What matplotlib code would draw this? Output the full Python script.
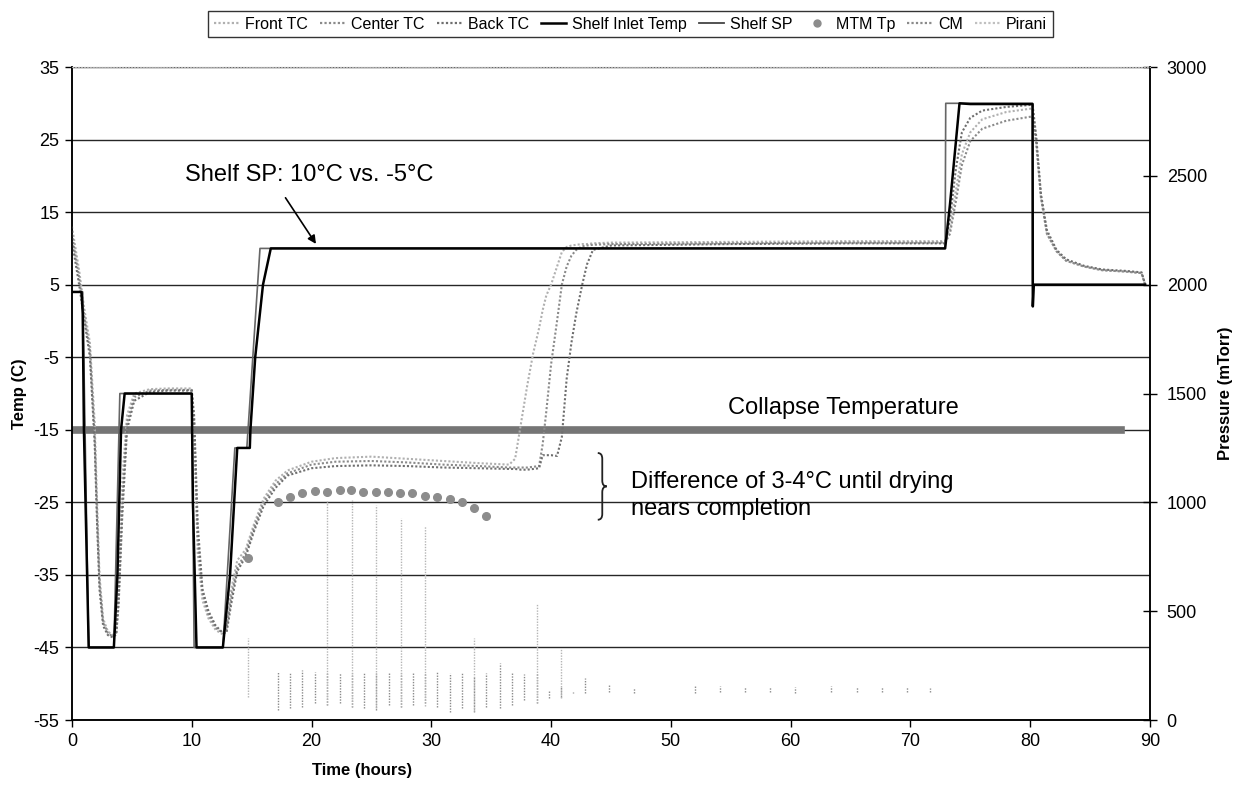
import matplotlib
matplotlib.use("Agg")
import matplotlib.pyplot as plt
from matplotlib.lines import Line2D
from matplotlib.path import Path
from matplotlib.patches import PathPatch

plt.rcParams['font.family'] = ['Liberation Sans', 'DejaVu Sans']
plt.rcParams['axes.unicode_minus'] = False

# ---- product thermocouples (deg C), common time base (hours) ----
tc_time = [0.0, 0.3, 0.6, 1.0, 1.5, 1.9, 2.1, 2.3, 2.6, 3.0, 3.4, 3.7, 3.9, 4.2, 4.6, 5.2,
           6.5, 8.0, 10.0, 10.2, 10.5, 10.9, 11.4, 12.0, 12.6, 12.9, 13.3, 13.8, 14.5,
           15.2, 16.0, 17.0, 18.0, 20.0, 22.0, 25.0, 28.0, 31.0, 34.0, 36.5, 37.0, 37.5,
           38.0, 38.5, 39.0, 39.3, 39.6, 40.0, 40.5, 40.9, 41.3, 41.7, 42.1, 42.6, 43.0,
           43.5, 45.0, 55.0, 65.0, 72.9, 73.3, 73.8, 74.3, 75.0, 76.0, 78.0, 80.2, 80.5,
           80.9, 81.4, 82.2, 83.0, 84.5, 86.0, 88.0, 89.3, 89.6]
front_tc = [13.0, 10.0, 7.0, 2.0, -3.0, -14.0, -25.0, -35.0, -41.0, -42.8, -43.3, -42.5,
            -36.0, -22.0, -13.0, -10.0, -9.4, -9.3, -9.3, -16.0, -32.0, -38.5, -41.0,
            -42.6, -43.2, -42.0, -37.0, -33.0, -31.5, -28.0, -24.5, -22.0, -20.6, -19.4,
            -18.9, -18.7, -19.0, -19.3, -19.6, -19.8, -19.0, -14.0, -9.0, -4.5, -1.0, 1.5,
            3.5, 5.0, 7.5, 9.5, 10.2, 10.4, 10.5, 10.6, 10.6, 10.7, 10.8, 10.9, 11.0, 11.0,
            12.5, 18.0, 23.0, 26.0, 27.8, 28.8, 29.3, 25.0, 17.0, 12.0, 9.6, 8.3, 7.5, 7.0,
            6.8, 6.6, 5.0]
center_tc = [12.0, 9.0, 6.0, 1.0, -4.0, -16.0, -27.0, -36.0, -41.5, -43.0, -43.5, -43.0,
             -38.0, -25.0, -14.0, -10.5, -9.6, -9.5, -9.5, -14.0, -30.0, -37.5, -40.5,
             -42.3, -43.0, -42.5, -38.0, -34.0, -32.0, -28.5, -25.0, -22.5, -21.0, -19.8,
             -19.4, -19.3, -19.5, -19.8, -20.0, -20.2, -20.2, -20.2, -20.2, -20.1, -20.0,
             -17.0, -12.5, -6.0, 0.0, 5.0, 7.5, 9.0, 9.8, 10.3, 10.4, 10.5, 10.6, 10.7,
             10.8, 10.8, 12.0, 16.5, 21.5, 24.8, 26.5, 27.6, 28.2, 24.5, 17.0, 12.0, 9.6,
             8.3, 7.5, 7.0, 6.8, 6.6, 5.0]
back_tc = [11.0, 8.0, 5.0, 0.5, -5.0, -17.0, -28.0, -37.0, -42.0, -43.3, -43.6, -43.2,
           -39.0, -27.0, -15.0, -11.0, -9.8, -9.6, -9.6, -13.0, -28.0, -37.0, -40.0, -42.0,
           -43.0, -43.0, -39.0, -34.5, -32.5, -29.0, -25.5, -23.0, -21.3, -20.3, -20.0,
           -19.9, -20.0, -20.2, -20.3, -20.4, -20.4, -20.5, -20.5, -20.4, -20.3, -18.5,
           -18.5, -18.5, -18.6, -16.0, -8.0, -3.0, 1.0, 5.0, 7.8, 9.8, 10.4, 10.6, 10.7,
           10.7, 14.0, 21.0, 26.0, 28.0, 29.0, 29.5, 29.8, 25.5, 17.5, 12.5, 9.8, 8.5, 7.6,
           7.1, 6.9, 6.7, 5.0]

# ---- shelf ----
inlet_time = [0.0, 0.8, 0.9, 1.0, 1.4, 3.5, 3.8, 4.1, 4.4, 5.0, 10.0, 10.1, 10.4, 12.6,
              13.2, 13.8, 14.85, 14.9, 15.3, 15.95, 16.6, 30.0, 50.0, 72.9, 73.3, 74.1,
              75.0, 80.2, 80.22, 80.3, 89.6]
inlet_temp = [4.0, 4.0, 1.0, -15.0, -45.0, -45.0, -35.0, -15.0, -10.0, -10.0, -10.0,
              -25.0, -45.0, -45.0, -35.0, -17.5, -17.5, -15.0, -5.0, 5.0, 10.0, 10.0, 10.0,
              10.0, 16.0, 30.0, 29.9, 29.9, 2.0, 5.0, 5.0]
sp_time = [0.0, 0.9, 1.4, 3.5, 4.0, 10.0, 10.2, 12.6, 13.6, 14.6, 15.7, 72.9, 72.95,
           80.2, 80.2, 89.6]
sp_temp = [4.0, 4.0, -45.0, -45.0, -10.0, -10.0, -45.0, -45.0, -17.5, -17.5, 10.0, 10.0,
           30.0, 30.0, 5.0, 5.0]

# ---- MTM product temperature ----
mtm_time = [14.7, 17.2, 18.2, 19.2, 20.3, 21.3, 22.4, 23.3, 24.3, 25.4, 26.35, 27.4,
            28.4, 29.5, 30.5, 31.55, 32.6, 33.6, 34.6]
mtm_temp = [-32.7, -25.0, -24.3, -23.75, -23.4, -23.6, -23.3, -23.3, -23.6, -23.6, -23.6,
            -23.75, -23.75, -24.1, -24.2, -24.6, -25.0, -25.8, -26.9]

collapse_time = [0.0, 87.6]
collapse_temp = [-15.0, -15.0]

# ---- chamber pressure (mTorr) ----
cm_time = [17.2, 18.2, 19.2, 20.3, 21.3, 22.4, 23.4, 24.4, 25.4, 26.5, 27.5, 28.5, 29.5,
           30.5, 31.6, 32.6, 33.6, 34.6, 35.7, 36.7, 37.7, 38.8, 39.8, 40.8, 41.8, 42.8,
           44.8, 46.9, 52.0, 54.1, 56.2, 58.3, 60.4, 63.4, 65.5, 67.6, 69.7, 71.6]
cm_low = [46, 54, 61, 77, 69, 77, 61, 54, 46, 69, 61, 69, 77, 61, 38, 54, 38, 61, 54, 69,
          92, 77, 100, 107, 123, 123, 130, 123, 125, 128, 130, 128, 125, 128, 130, 128,
          130, 130]
cm_high = [222, 222, 228, 222, 215, 214, 215, 222, 214, 214, 215, 222, 215, 222, 214, 214,
           199, 214, 260, 222, 210, 216, 138, 152, 130, 191, 161, 145, 160, 155, 150, 150,
           150, 155, 150, 150, 150, 145]
pirani_time = [14.7, 21.3, 23.4, 25.4, 27.5, 29.5, 33.6, 38.8, 40.8]
pirani_low = [106, 70, 60, 55, 60, 65, 40, 80, 100]
pirani_high = [377, 1010, 1010, 988, 928, 891, 377, 537, 331]

fig = plt.figure(figsize=(12.34, 7.85), dpi=100)
ax = fig.add_axes([0.0583, 0.0828, 0.8736, 0.8318])
ax2 = ax.twinx()

dot = (0, (1, 1))
ax.plot(collapse_time, collapse_temp, color="#757575", lw=5.5, zorder=2)
ax.plot(tc_time, front_tc, color="#b0b0b0", lw=1.5, ls=dot, zorder=3)
ax.plot(tc_time, center_tc, color="#8a8a8a", lw=1.5, ls=dot, zorder=3)
ax.plot(tc_time, back_tc, color="#6e6e6e", lw=1.5, ls=dot, zorder=3)
ax.plot(sp_time, sp_temp, color="#666666", lw=1.2, zorder=4)
ax.plot(inlet_time, inlet_temp, color="black", lw=1.8, zorder=5)
ax.plot(mtm_time, mtm_temp, ls="none", marker="o", ms=5.5, color="#8c8c8c", zorder=6)

ax2.vlines(cm_time, cm_low, cm_high, colors="#8a8a8a", lw=1.0, linestyles=dot)
ax2.vlines(pirani_time, pirani_low, pirani_high, colors="#b5b5b5", lw=1.0, linestyles=dot)

ax.set_xlim(0, 90)
ax.set_ylim(-55, 35)
ax.set_xticks(range(0, 91, 10))
ax.set_yticks(range(-55, 36, 10))
ax2.set_ylim(0, 3000)
ax2.set_yticks(range(0, 3001, 500))

ax.yaxis.grid(True, color="#262626", lw=1.0)
ax.set_axisbelow(True)
ax.tick_params(axis="both", direction="out", length=5, width=1, labelsize=13, pad=4)
ax2.tick_params(axis="y", direction="inout", length=10, width=1, labelsize=13, pad=7)

for a in (ax, ax2):
    a.spines["top"].set_color("#b0b0b0")
    a.spines["top"].set_linestyle(":")
    for s in ("left", "right", "bottom"):
        a.spines[s].set_color("black")
        a.spines[s].set_linewidth(1.1)

ax.set_ylabel("Temp (C)", fontsize=12, fontweight="bold", labelpad=5)
ax2.set_ylabel("Pressure (mTorr)", fontsize=12, fontweight="bold", labelpad=8)
ax.set_xlabel("Time (hours)", fontsize=12, fontweight="bold")
ax.xaxis.set_label_coords(0.269, -0.066)

# annotations
ax.text(9.4, 20.1, "Shelf SP: 10\u00b0C vs. -5\u00b0C", fontsize=17, va="center", ha="left")
ax.annotate("", xy=(20.5, 10.3), xytext=(17.7, 17.3),
            arrowprops=dict(arrowstyle="-|>", color="black", lw=1.2, mutation_scale=12))
ax.text(64.4, -12.0, "Collapse Temperature", fontsize=17, ha="center", va="center")
ax.text(46.7, -24.1, "Difference of 3-4\u00b0C until drying\nnears completion",
        fontsize=17, ha="left", va="center", linespacing=1.3)

# curly brace next to the difference note
bx, bw = 43.9, 0.75
ytop, ybot = -18.2, -27.4
ymid, d = (ytop + ybot) / 2, 0.8
verts = [(bx, ytop), (bx + bw / 2, ytop), (bx + bw / 2, ytop - d),
         (bx + bw / 2, ymid + d),
         (bx + bw / 2, ymid), (bx + bw, ymid),
         (bx + bw / 2, ymid), (bx + bw / 2, ymid - d),
         (bx + bw / 2, ybot + d),
         (bx + bw / 2, ybot), (bx, ybot)]
codes = [Path.MOVETO, Path.CURVE3, Path.CURVE3, Path.LINETO, Path.CURVE3, Path.CURVE3,
         Path.CURVE3, Path.CURVE3, Path.LINETO, Path.CURVE3, Path.CURVE3]
ax.add_patch(PathPatch(Path(verts, codes), fill=False, lw=1.3, color="#222222"))

handles = [
    Line2D([], [], color="#b0b0b0", lw=1.6, ls=dot),
    Line2D([], [], color="#8a8a8a", lw=1.6, ls=dot),
    Line2D([], [], color="#6e6e6e", lw=1.6, ls=dot),
    Line2D([], [], color="black", lw=1.8),
    Line2D([], [], color="#444444", lw=1.3),
    Line2D([], [], color="#8c8c8c", ls="none", marker="o", ms=5),
    Line2D([], [], color="#8a8a8a", lw=1.6, ls=dot),
    Line2D([], [], color="#c0c0c0", lw=1.6, ls=dot),
]
labels = ["Front TC", "Center TC", "Back TC", "Shelf Inlet Temp", "Shelf SP", "MTM Tp",
          "CM", "Pirani"]
leg = fig.legend(handles, labels, loc="center", bbox_to_anchor=(0.511, 0.969), ncol=8,
                 fontsize=11.5, frameon=True, fancybox=False, handlelength=1.6,
                 handletextpad=0.35, columnspacing=0.75, borderpad=0.35)
leg.get_frame().set_edgecolor("black")
leg.get_frame().set_linewidth(1.0)

fig.savefig("out.png", dpi=100)
